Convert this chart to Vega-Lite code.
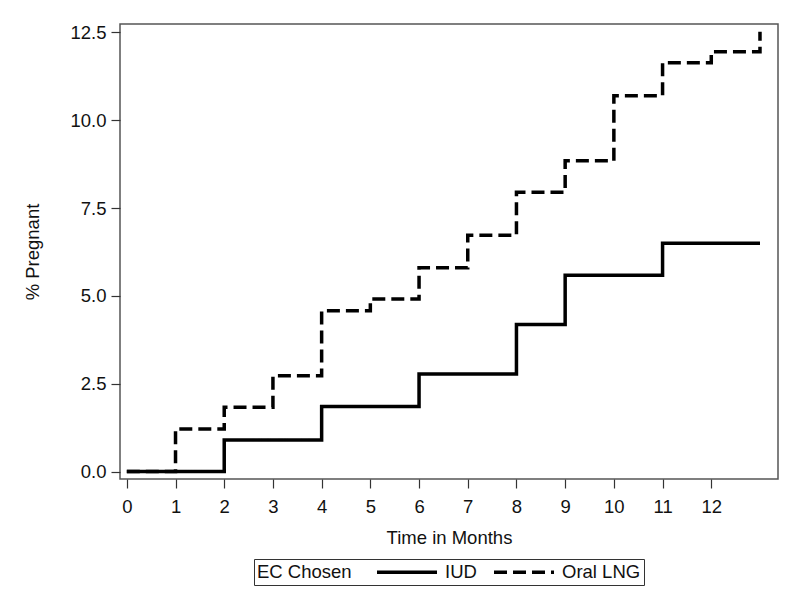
{
  "$schema": "https://vega.github.io/schema/vega-lite/v6.json",
  "width": 658,
  "height": 455,
  "autosize": {"type": "none"},
  "padding": {"left": 120, "top": 24, "right": 22, "bottom": 126},
  "background": "white",
  "config": {
    "font": "Liberation Sans",
    "view": {"stroke": "#555555", "strokeWidth": 1.5},
    "axis": {
      "domain": false,
      "grid": false,
      "tickColor": "#333333",
      "tickSize": 9,
      "tickWidth": 1.2,
      "labelFont": "Liberation Sans",
      "labelFontSize": 18.5,
      "labelColor": "#111111",
      "titleFont": "Liberation Sans",
      "titleFontSize": 18.5,
      "titleFontWeight": "normal",
      "titleColor": "#111111"
    }
  },
  "data": {
    "values": [
      {"month": 0, "pct": 0, "group": "IUD"},
      {"month": 2, "pct": 0.9, "group": "IUD"},
      {"month": 4, "pct": 1.85, "group": "IUD"},
      {"month": 6, "pct": 2.78, "group": "IUD"},
      {"month": 8, "pct": 4.19, "group": "IUD"},
      {"month": 9, "pct": 5.59, "group": "IUD"},
      {"month": 11, "pct": 6.5, "group": "IUD"},
      {"month": 13, "pct": 6.5, "group": "IUD"},
      {"month": 0, "pct": 0, "group": "Oral LNG"},
      {"month": 1, "pct": 1.21, "group": "Oral LNG"},
      {"month": 2, "pct": 1.83, "group": "Oral LNG"},
      {"month": 3, "pct": 2.73, "group": "Oral LNG"},
      {"month": 4, "pct": 4.58, "group": "Oral LNG"},
      {"month": 5, "pct": 4.91, "group": "Oral LNG"},
      {"month": 6, "pct": 5.8, "group": "Oral LNG"},
      {"month": 7, "pct": 6.73, "group": "Oral LNG"},
      {"month": 8, "pct": 7.95, "group": "Oral LNG"},
      {"month": 9, "pct": 8.85, "group": "Oral LNG"},
      {"month": 10, "pct": 10.7, "group": "Oral LNG"},
      {"month": 11, "pct": 11.64, "group": "Oral LNG"},
      {"month": 12, "pct": 11.95, "group": "Oral LNG"},
      {"month": 13, "pct": 12.52, "group": "Oral LNG"}
    ]
  },
  "mark": {"type": "line", "interpolate": "step-after", "strokeWidth": 3.5, "color": "black", "strokeCap": "butt"},
  "encoding": {
    "x": {
      "field": "month",
      "type": "quantitative",
      "title": "Time in Months",
      "scale": {"domain": [-0.14, 13.37], "nice": false, "zero": false},
      "axis": {"values": [0,1,2,3,4,5,6,7,8,9,10,11,12], "format": "d", "labelPadding": 9, "titlePadding": 13}
    },
    "y": {
      "field": "pct",
      "type": "quantitative",
      "title": "% Pregnant",
      "scale": {"domain": [-0.21, 12.74], "nice": false, "zero": false},
      "axis": {"values": [0, 2.5, 5, 7.5, 10, 12.5], "format": ".1f", "labelPadding": 5, "titlePadding": 27}
    },
    "strokeDash": {
      "field": "group",
      "type": "nominal",
      "scale": {"domain": ["IUD", "Oral LNG"], "range": [[1, 0], [13, 6]]},
      "legend": {
        "title": "EC Chosen",
        "orient": "none",
        "legendX": 134,
        "legendY": 535,
        "direction": "horizontal",
        "titleOrient": "left",
        "titleAnchor": "middle",
        "titleBaseline": "middle",
        "titleFont": "Liberation Sans",
        "titleFontSize": 18.5,
        "titleFontWeight": "normal",
        "titleColor": "#111111",
        "titlePadding": 45,
        "labelFont": "Liberation Sans",
        "labelFontSize": 18.5,
        "labelColor": "#111111",
        "labelOffset": 28,
        "columnPadding": 10,
        "symbolType": "M-3.75,0H3.75",
        "symbolSize": 256,
        "symbolStrokeWidth": 3.5,
        "symbolStrokeColor": "black",
        "strokeColor": "#333333",
        "padding": 3
      }
    }
  }
}
